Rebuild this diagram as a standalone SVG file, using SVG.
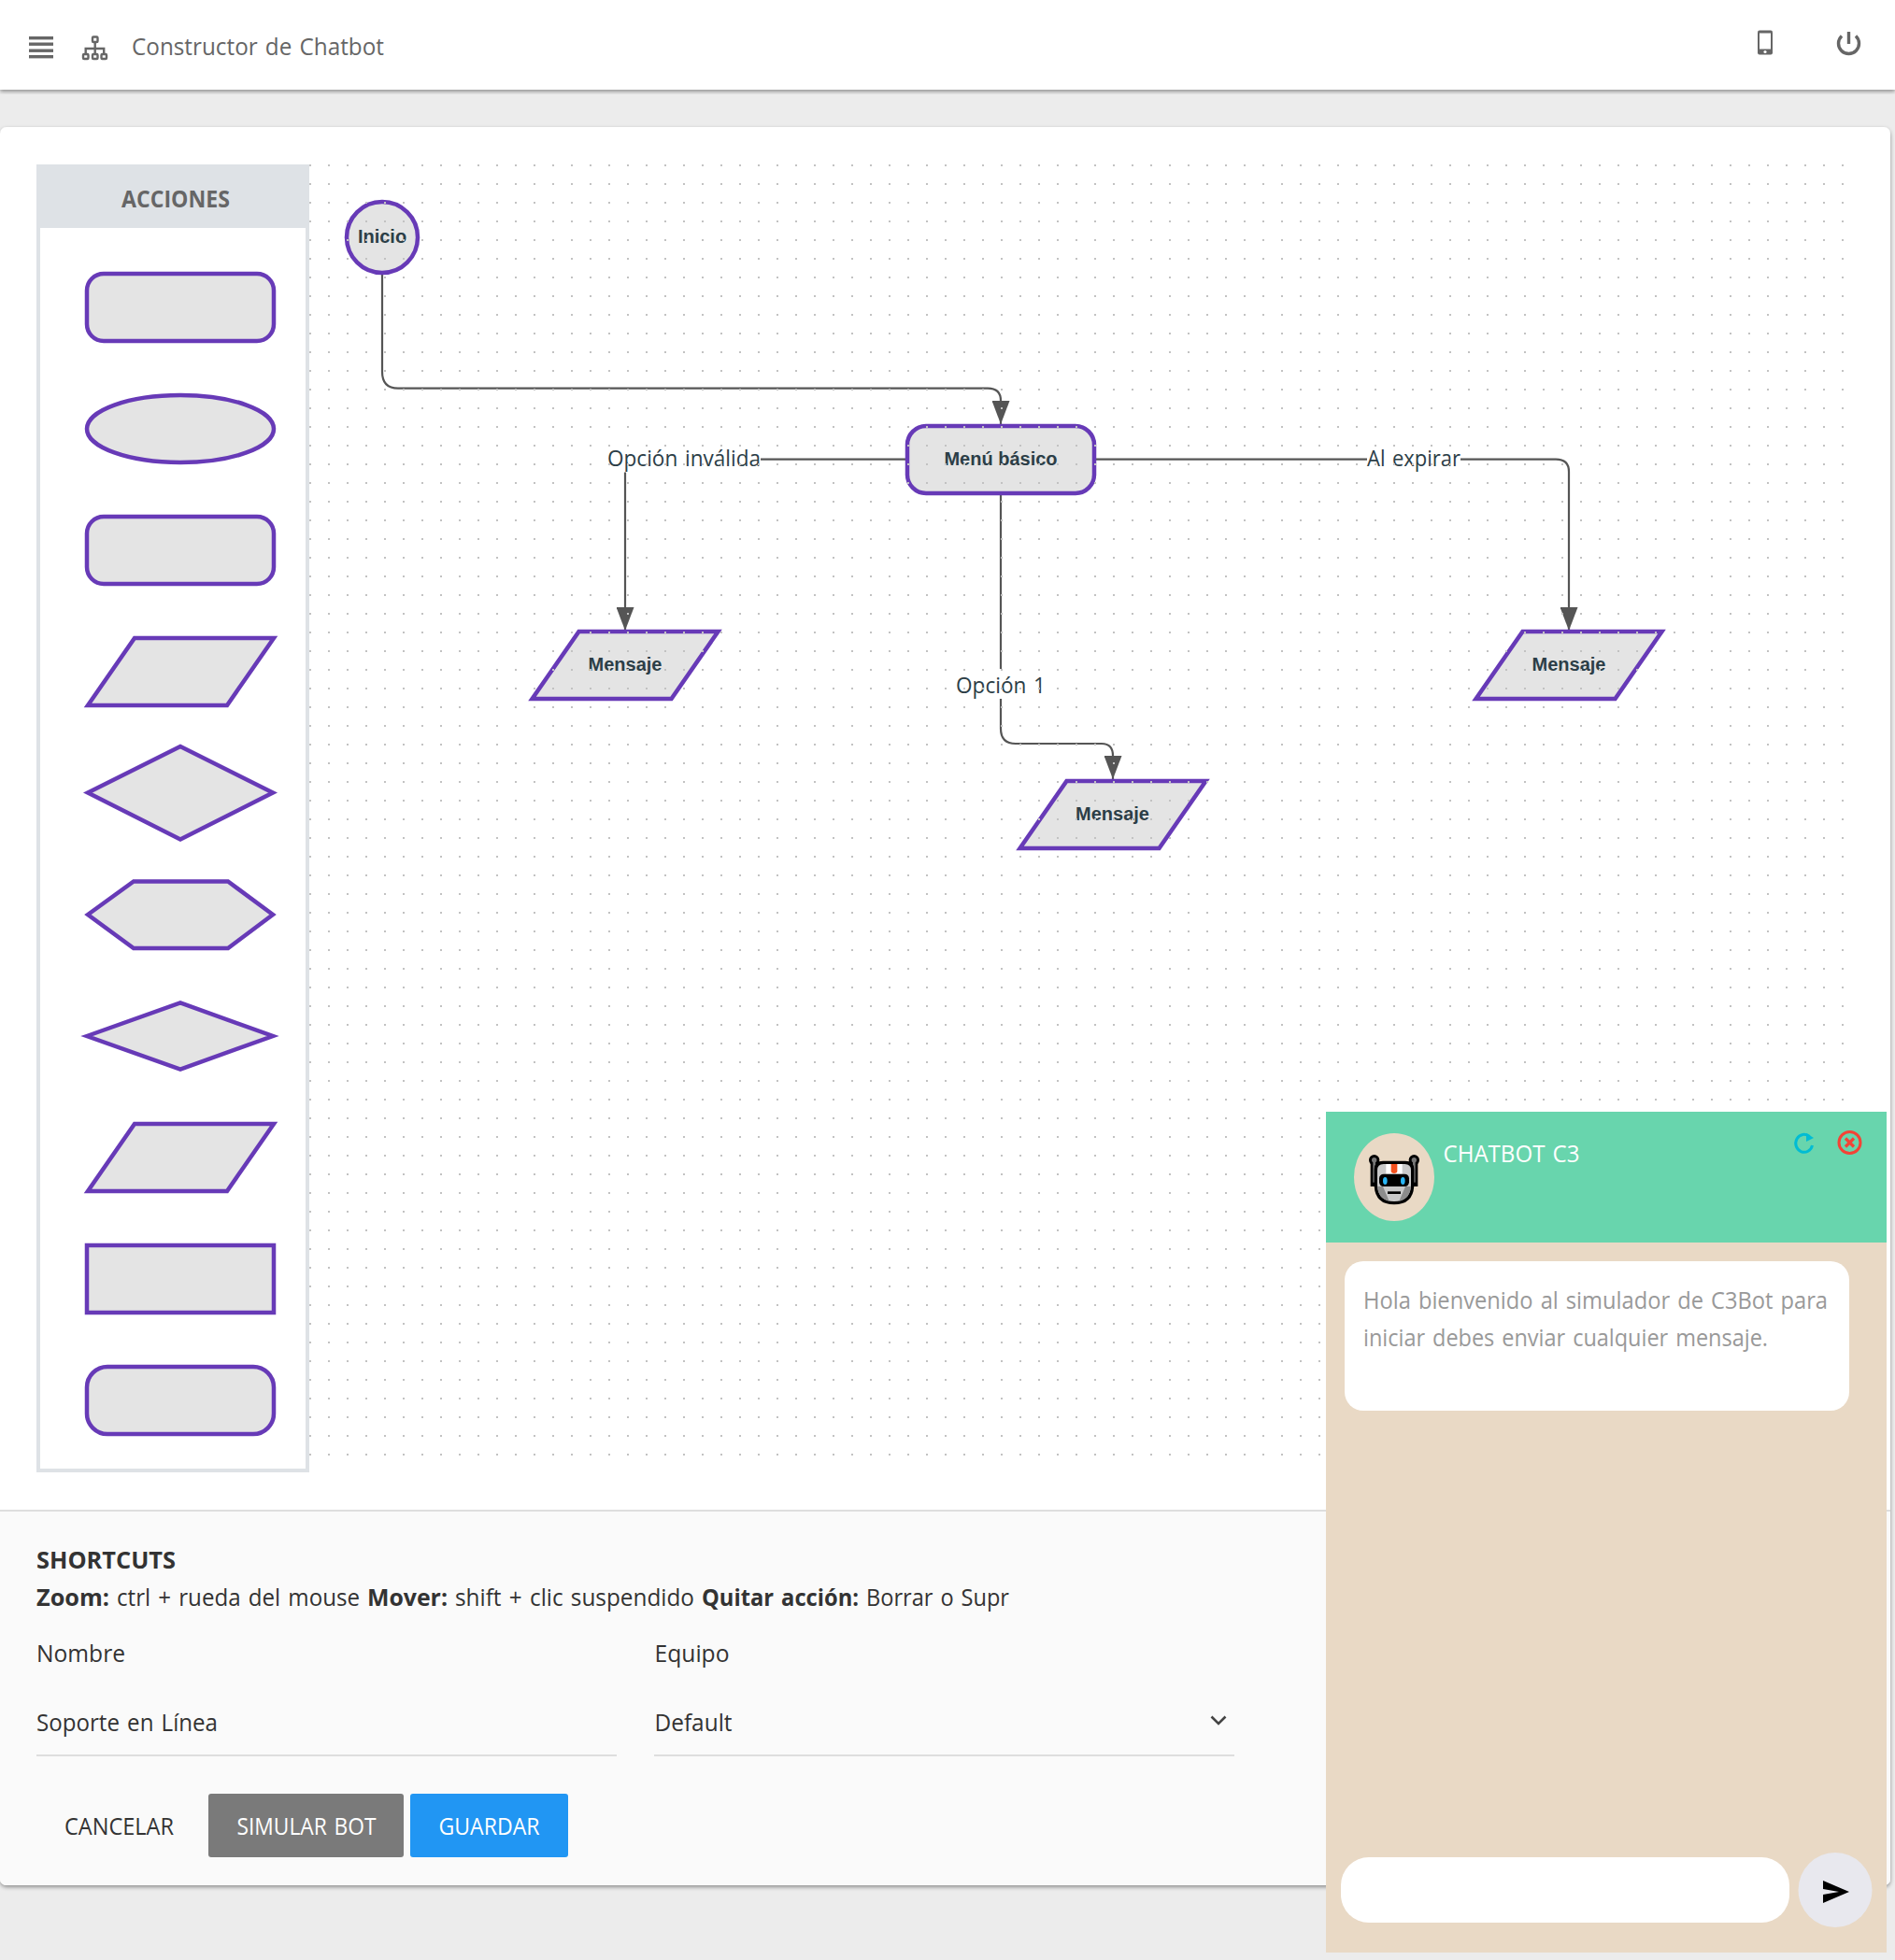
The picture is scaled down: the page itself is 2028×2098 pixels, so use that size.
<svg xmlns="http://www.w3.org/2000/svg" width="2028" height="2098" viewBox="0 0 2028 2098">
<style>
.ui{font-family:"Open Sans","Noto Sans","Liberation Sans",sans-serif;font-size:25px;fill:#333;word-spacing:2px}
.b{font-weight:700}
.node{font-family:"Liberation Sans",Arial,sans-serif;font-size:20px;font-weight:700;fill:#2c3e47;text-anchor:middle}
.lbl{font-family:"Open Sans","Noto Sans","Liberation Sans",sans-serif;font-size:24px;fill:#2c3e47;word-spacing:2px}
.sh{fill:#e4e4e4;stroke:#673ab7;stroke-width:4.5}
.edge{fill:none;stroke:#555;stroke-width:2.2}
.ico{fill:none;stroke:#666;stroke-width:2.4}
</style>
<defs>
<marker id="arrow" markerUnits="userSpaceOnUse" markerWidth="26" markerHeight="19" refX="25" refY="9.5" orient="auto"><path d="M0,0 L25,9.5 L0,19 Z" fill="#555"/></marker>
<pattern id="dots" x="331" y="176" width="20" height="20" patternUnits="userSpaceOnUse"><rect width="2" height="2" fill="#c2c2c2"/></pattern>
<filter id="shadow" x="-2%" y="-5%" width="104%" height="110%"><feDropShadow dx="0" dy="2" stdDeviation="2" flood-color="#000" flood-opacity=".4"/></filter>
<path id="para" d="M94,755 L144,683 L293,683 L243,755 Z"/>
</defs>
<rect width="2028" height="2098" fill="#ececec"/>
<g id="card">
<rect x="0" y="136" width="2023" height="1882" rx="7" fill="#fff" filter="url(#shadow)"/>
<path d="M0,1618 H2023 V2011 a7,7 0 0 1 -7,7 H7 a7,7 0 0 1 -7,-7 Z" fill="#fafafa"/>
<rect x="0" y="1616" width="2023" height="2" fill="#dedede"/>
</g>
<g id="navbar">
<rect x="0" y="0" width="2028" height="96" fill="#fff" filter="url(#shadow)"/>
<g fill="#666"><rect x="31" y="39" width="26" height="3.4"/><rect x="31" y="45.500" width="26" height="3.4"/><rect x="31" y="52.500" width="26" height="3.4"/><rect x="31" y="59" width="26" height="3.4"/></g>
<g class="ico"><rect x="99" y="39.500" width="5.500" height="5.500" rx="1"/><rect x="89" y="58" width="5.500" height="5" rx="1"/><rect x="99" y="58" width="5.500" height="5" rx="1"/><rect x="108.500" y="58" width="5.500" height="5" rx="1"/><path d="M101.700,45 V58 M91.700,58 V52 H111.200 V58"/></g>
<text class="ui" x="141" y="59" style="fill:#666;font-size:26px" textLength="270" lengthAdjust="spacingAndGlyphs">Constructor de Chatbot</text>
<rect x="1881" y="32.500" width="16" height="26" rx="2" fill="#666"/><rect x="1883" y="35.500" width="12" height="17" fill="#fff"/><circle cx="1889" cy="55.500" r="1.600" fill="#fff"/>
<path d="M1971,38.500 A11,11 0 1 0 1986,38.500" fill="none" stroke="#666" stroke-width="3.400"/><path d="M1978.500,34 V47" stroke="#666" stroke-width="3.400" fill="none"/>
</g>
<g id="acciones">
<rect x="41" y="178" width="288" height="1396" fill="#fff" stroke="#dee2e6" stroke-width="4"/>
<rect x="39" y="176" width="292" height="68" fill="#dee2e6"/>
<text class="ui b" x="130" y="222" style="fill:#666" textLength="116" lengthAdjust="spacingAndGlyphs">ACCIONES</text>
</g>
<g id="paleta">
<rect class="sh" x="93" y="293" width="200" height="72" rx="18"/>
<ellipse class="sh" cx="193" cy="459" rx="100" ry="36"/>
<rect class="sh" x="93" y="553" width="200" height="72" rx="18"/>
<use href="#para" class="sh"/>
<path class="sh" d="M94,848.500 L193,799 L292,848.500 L193,898.500 Z"/>
<path class="sh" d="M94,979 L143,943.500 L244,943.500 L292,979 L244,1015 L143,1015 Z"/>
<path class="sh" d="M93,1109 L193,1073.500 L292,1109 L193,1144.500 Z"/>
<use href="#para" class="sh" y="520"/>
<rect class="sh" x="93" y="1333" width="200" height="72"/>
<rect class="sh" x="93" y="1463" width="200" height="72" rx="22"/>
</g>
<g id="conectores">
<path class="edge" marker-end="url(#arrow)" d="M409,294 V398 Q409,415.700 426,415.700 H1057 Q1071,415.700 1071,429 V454"/>
<path class="edge" d="M969,491.700 H814"/>
<path class="edge" marker-end="url(#arrow)" d="M669,505.500 V675"/>
<path class="edge" d="M1173,491.700 H1463"/>
<path class="edge" marker-end="url(#arrow)" d="M1563,491.700 H1665 Q1679,491.700 1679,505 V675"/>
<path class="edge" d="M1071,529 V716"/>
<path class="edge" marker-end="url(#arrow)" d="M1071,748 V780 Q1071,796 1087,796 H1179 Q1191,796 1191,809 V834"/>
<text class="lbl" x="650" y="499" textLength="164" lengthAdjust="spacingAndGlyphs">Opción inválida</text>
<text class="lbl" x="1463" y="499" textLength="100" lengthAdjust="spacingAndGlyphs">Al expirar</text>
<text class="lbl" x="1023" y="742" textLength="96" lengthAdjust="spacingAndGlyphs">Opción 1</text>
</g>
<g id="inicio"><circle class="sh" cx="409" cy="254" r="38"/><text class="node" x="409" y="259.500">Inicio</text></g>
<g id="menu"><rect class="sh" x="971" y="456" width="200" height="72" rx="20"/><text class="node" x="1071" y="498">Menú básico</text></g>
<g id="mensaje1"><use href="#para" class="sh" x="475.500" y="-7"/><text class="node" x="669" y="718">Mensaje</text></g>
<g id="mensaje2"><use href="#para" class="sh" x="997.500" y="153"/><text class="node" x="1190.500" y="878">Mensaje</text></g>
<g id="mensaje3"><use href="#para" class="sh" x="1485.500" y="-7"/><text class="node" x="1679" y="718">Mensaje</text></g>
<rect id="puntos" x="331" y="176" width="1644" height="1383" fill="url(#dots)"/>
<g id="pie">
<text class="ui b" x="39" y="1679" textLength="149" lengthAdjust="spacingAndGlyphs">SHORTCUTS</text>
<text class="ui b" x="39" y="1719" textLength="78" lengthAdjust="spacingAndGlyphs">Zoom:</text>
<text class="ui" x="125" y="1719" textLength="260" lengthAdjust="spacingAndGlyphs">ctrl + rueda del mouse</text>
<text class="ui b" x="393" y="1719" textLength="86" lengthAdjust="spacingAndGlyphs">Mover:</text>
<text class="ui" x="487" y="1719" textLength="256" lengthAdjust="spacingAndGlyphs">shift + clic suspendido</text>
<text class="ui b" x="751" y="1719" textLength="168" lengthAdjust="spacingAndGlyphs">Quitar acción:</text>
<text class="ui" x="927" y="1719" textLength="153" lengthAdjust="spacingAndGlyphs">Borrar o Supr</text>
<text class="ui" x="39" y="1779" textLength="95" lengthAdjust="spacingAndGlyphs">Nombre</text>
<text class="ui" x="39" y="1853" textLength="194" lengthAdjust="spacingAndGlyphs">Soporte en Línea</text>
<rect x="39" y="1878" width="621" height="2" fill="#dedede"/>
<text class="ui" x="700.500" y="1779" textLength="80" lengthAdjust="spacingAndGlyphs">Equipo</text>
<text class="ui" x="700.500" y="1852.500" textLength="83" lengthAdjust="spacingAndGlyphs">Default</text>
<rect x="700" y="1878" width="621" height="2" fill="#dedede"/>
<path d="M1296.500,1837.500 L1304,1845 L1311.500,1837.500" fill="none" stroke="#444" stroke-width="2.600"/>
</g>
<g id="btn-cancelar"><text class="ui" x="69" y="1964" textLength="117" lengthAdjust="spacingAndGlyphs">CANCELAR</text></g>
<g id="btn-simular"><rect x="223" y="1920" width="209" height="68" rx="3" fill="#7a7a7a"/><text class="ui" x="253.500" y="1964" style="fill:#fff" textLength="149" lengthAdjust="spacingAndGlyphs">SIMULAR BOT</text></g>
<g id="btn-guardar"><rect x="439" y="1920" width="169" height="68" rx="3" fill="#2196f3"/><text class="ui" x="469.500" y="1964" style="fill:#fff" textLength="108" lengthAdjust="spacingAndGlyphs">GUARDAR</text></g>
<g id="chat">
<rect x="1419" y="1190" width="600" height="900" fill="#e9d9c5"/>
<rect x="1419" y="1190" width="600" height="140" fill="#68d5ad"/>
<ellipse cx="1492" cy="1260" rx="43" ry="47" fill="#e9d9c5"/>
<g transform="translate(1430 1190) scale(.33333)">
<circle cx="122" cy="155" r="17" fill="#000"/><circle cx="250" cy="155" r="17" fill="#000"/>
<rect x="110" y="155" width="20" height="85" fill="#000"/><rect x="242" y="155" width="20" height="85" fill="#000"/>
<rect x="118" y="155" width="8" height="72" fill="#777"/><rect x="246" y="155" width="8" height="72" fill="#777"/>
<circle cx="122" cy="155" r="8" fill="#777"/><circle cx="250" cy="155" r="8" fill="#777"/>
<path d="M122,185 Q122,158 150,158 H222 Q250,158 250,185 V232 Q250,298 186,298 Q122,298 122,232 Z" fill="#000"/>
<path d="M132,188 Q132,168 152,168 H220 Q240,168 240,188 V232 Q240,288 186,288 Q132,288 132,232 Z" fill="#c9c9c9"/>
<path d="M132,240 Q136,280 170,287 L150,240 Z M240,240 Q236,280 202,287 L222,240 Z" fill="#8c8c8c"/>
<rect x="160" y="168" width="52" height="32" fill="#fff"/>
<path d="M176,168 H196 V190 Q196,198 186,198 Q176,198 176,190 Z" fill="#f4511e"/>
<rect x="138" y="200" width="96" height="40" rx="14" fill="#000"/>
<ellipse cx="157" cy="222" rx="7" ry="12" fill="#29b6f6"/><ellipse cx="214" cy="222" rx="7" ry="12" fill="#29b6f6"/>
<rect x="165" y="256" width="42" height="8" fill="#000"/>
</g>
<text class="ui" x="1544.500" y="1243.500" style="fill:#fff" textLength="146" lengthAdjust="spacingAndGlyphs">CHATBOT C3</text>
<path d="M1936.500,1216.500 A9,9.500 0 1 0 1939.500,1226" fill="none" stroke="#00bcd4" stroke-width="3"/><path d="M1933,1213 L1941,1218 L1933,1222 Z" fill="#00bcd4"/>
<circle cx="1979.500" cy="1223" r="11.500" fill="none" stroke="#f44336" stroke-width="3"/><path d="M1975,1218.500 L1984,1227.500 M1984,1218.500 L1975,1227.500" stroke="#f44336" stroke-width="3.200" fill="none"/>
<rect x="1439" y="1350" width="540" height="160" rx="20" fill="#fff"/>
<text class="ui" x="1459" y="1401" style="fill:#999" textLength="497" lengthAdjust="spacingAndGlyphs">Hola bienvenido al simulador de C3Bot para</text>
<text class="ui" x="1459" y="1441" style="fill:#999" textLength="433" lengthAdjust="spacingAndGlyphs">iniciar debes enviar cualquier mensaje.</text>
<rect x="1435" y="1988" width="480" height="70" rx="30" fill="#fff"/>
<ellipse cx="1964" cy="2023" rx="39.500" ry="40" fill="#e8e8ee"/>
<path d="M1951,2013 L1979,2025 L1951,2037 L1951,2028 L1968,2025 L1951,2022 Z" fill="#000"/>
</g>
</svg>
